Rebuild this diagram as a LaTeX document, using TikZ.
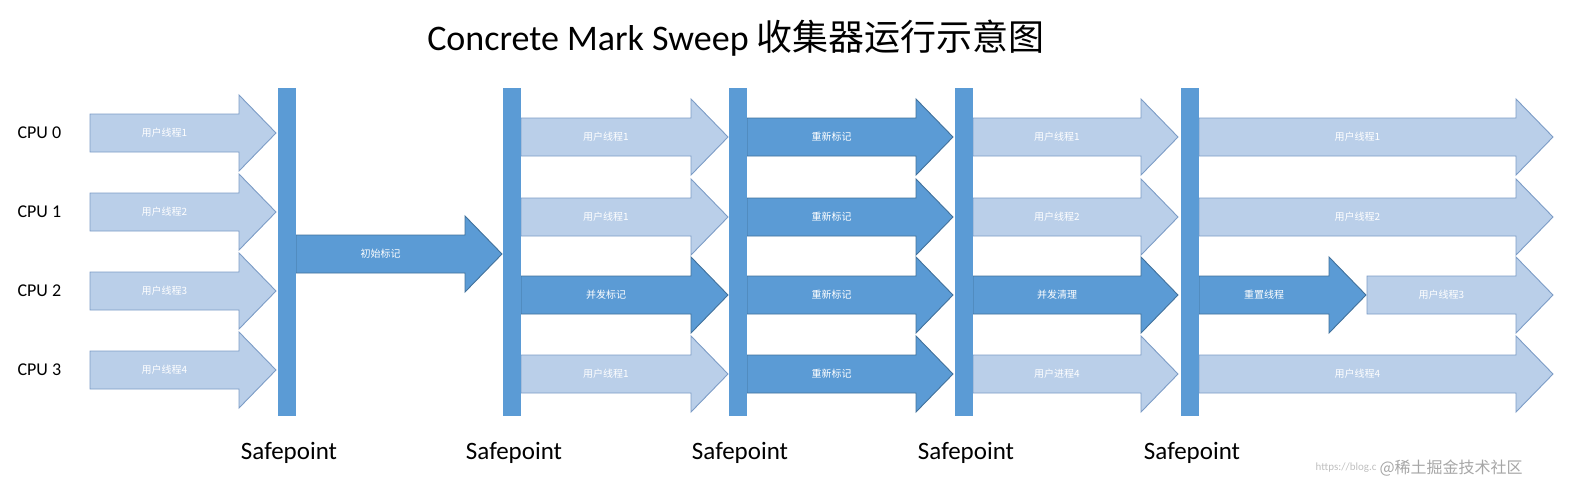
\documentclass[tikz,border=0pt]{standalone}
\usepackage{fontspec}
\setmainfont{Carlito}
\newfontfamily\cjk{Noto Sans CJK SC}
\definecolor{lf}{HTML}{BACFE9}
\definecolor{lb}{HTML}{7C9CC6}
\definecolor{df}{HTML}{5B9BD5}
\definecolor{db}{HTML}{41719C}
\tikzset{
  light/.style={fill=lf,draw=lb,line width=0.9pt},
  dark/.style={fill=df,draw=db,line width=0.9pt},
  bar/.style={fill=df,draw=none},
  lbl/.style={text=white,font=\cjk\fontsize{10}{12}\selectfont},
  cpu/.style={font=\fontsize{18}{20}\selectfont,anchor=west},
  sp/.style={font=\fontsize{25}{28}\selectfont},
}
% \arw{name}{x1}{x2}{yc}{style}{text}
\newcommand\arw[6]{%
  \path[#5] (#2,#4-19) -- (#3-37,#4-19) -- (#3-37,#4-38) -- (#3,#4) -- (#3-37,#4+38) -- (#3-37,#4+19) -- (#2,#4+19) -- cycle;
  \node[lbl] (#1) at ({(#2+#3-37)/2},#4) {#6};}
\begin{document}
\begin{tikzpicture}[x=1pt,y=-1pt]
\useasboundingbox (0,0) rectangle (1569,488);
\node (title) at (736,38) {\fontsize{36}{40}\selectfont Concrete Mark Sweep {\cjk 收集器运行示意图}};
\foreach \r/\y in {0/133,1/212,2/291,3/370}{\node[cpu] (cpu\r) at (14,\y) {CPU \r};}
% column 1
\arw{a0}{90}{276}{133}{light}{用户线程1}
\arw{a1}{90}{276}{212}{light}{用户线程2}
\arw{a2}{90}{276}{291}{light}{用户线程3}
\arw{a3}{90}{276}{370}{light}{用户线程4}
\arw{im}{296}{502}{254}{dark}{初始标记}
% column 2
\arw{b0}{521}{728}{137}{light}{用户线程1}
\arw{b1}{521}{728}{217}{light}{用户线程1}
\arw{b2}{521}{728}{295}{dark}{并发标记}
\arw{b3}{521}{728}{374}{light}{用户线程1}
% column 3
\arw{c0}{747}{953}{137}{dark}{重新标记}
\arw{c1}{747}{953}{217}{dark}{重新标记}
\arw{c2}{747}{953}{295}{dark}{重新标记}
\arw{c3}{747}{953}{374}{dark}{重新标记}
% column 4
\arw{d0}{973}{1178}{137}{light}{用户线程1}
\arw{d1}{973}{1178}{217}{light}{用户线程2}
\arw{d2}{973}{1178}{295}{dark}{并发清理}
\arw{d3}{973}{1178}{374}{light}{用户进程4}
% column 5
\arw{e0}{1199}{1553}{137}{light}{用户线程1}
\arw{e1}{1199}{1553}{217}{light}{用户线程2}
\arw{e2}{1199}{1366}{295}{dark}{重置线程}
\arw{e2b}{1367}{1553}{295}{light}{用户线程3}
\arw{e3}{1199}{1553}{374}{light}{用户线程4}
% bars and labels
\foreach \i/\x in {1/278,2/503,3/729,4/955,5/1181}{
  \fill[bar] (\x,88) rectangle (\x+18,416);
  \node[sp] (sp\i) at (\x+9+2,453) {Safepoint};
}
\node[text=black!25,font=\fontsize{11}{13}\selectfont,anchor=east] (url) at (1380,468) {https://blog.c};
\node[text=black!35,font=\cjk\fontsize{16}{18}\selectfont,anchor=west] (wm) at (1376,468) {@稀土掘金技术社区};
\end{tikzpicture}
\end{document}
